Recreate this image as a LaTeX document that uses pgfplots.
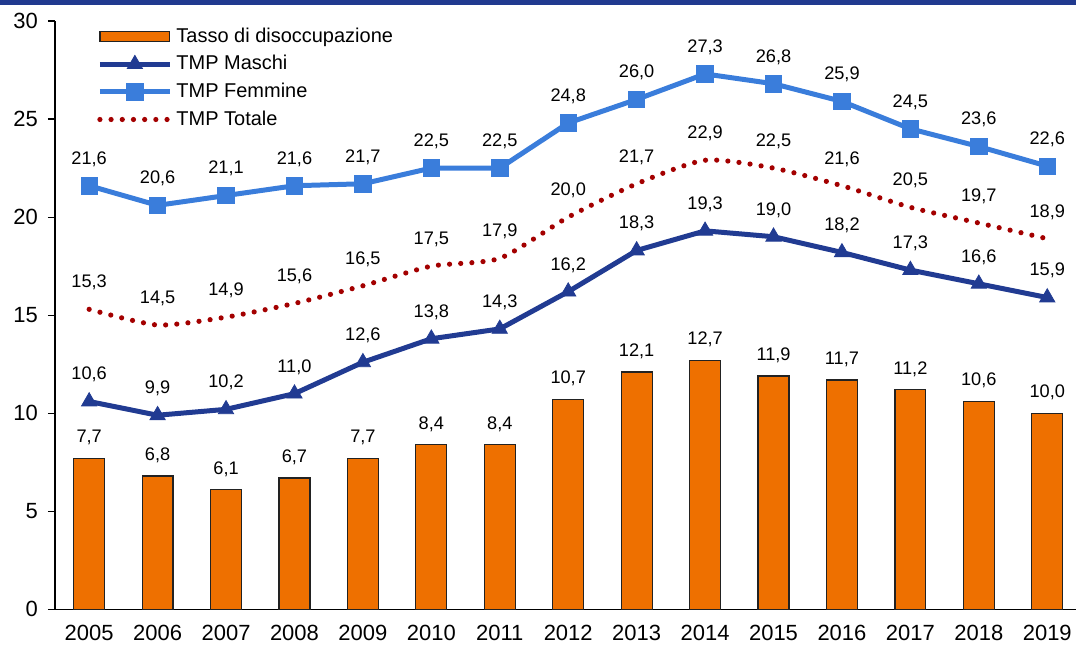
\documentclass[border=0pt]{standalone}
\usepackage{fontspec}
\setmainfont{Liberation Sans}
\usepackage{pgfplots}
\usepackage{pgfplotstable}
\pgfplotsset{compat=1.18}
\definecolor{bandBlue}{HTML}{213A8F}
\definecolor{maschiBlue}{HTML}{213B92}
\definecolor{femmineBlue}{HTML}{3A7DDB}
\definecolor{totaleRed}{HTML}{A30000}
\definecolor{barOrange}{HTML}{EE7000}
\definecolor{barEdge}{HTML}{222222}

\pgfplotsset{
  barlegend/.style={legend image code/.code={\draw[##1] (0pt,-2.6pt) rectangle (35pt,2.6pt);}},
  linelegend/.style={legend image code/.code={\draw[mark repeat=2, mark phase=2, ##1]
      plot coordinates {(0pt,0pt) (17.5pt,0pt) (35pt,0pt)};}},
}

% x = 0 ... 14 stands for 2005 ... 2019
\pgfplotstableread{
x tasso maschi femmine totale
0  7.7 10.6 21.6 15.3
1  6.8  9.9 20.6 14.5
2  6.1 10.2 21.1 14.9
3  6.7 11.0 21.6 15.6
4  7.7 12.6 21.7 16.5
5  8.4 13.8 22.5 17.5
6  8.4 14.3 22.5 17.9
7 10.7 16.2 24.8 20.0
8 12.1 18.3 26.0 21.7
9 12.7 19.3 27.3 22.9
10 11.9 19.0 26.8 22.5
11 11.7 18.2 25.9 21.6
12 11.2 17.3 24.5 20.5
13 10.6 16.6 23.6 19.7
14 10.0 15.9 22.6 18.9
}\datatable

\begin{document}
\begin{tikzpicture}
\begin{axis}[
  scale only axis,
  width=511pt, height=294.5pt,
  xmin=-0.5, xmax=14.42,
  ymin=0, ymax=30,
  axis x line*=bottom, axis y line*=left,
  axis line style={black, line width=0.6pt},
  xtick={0,...,14},
  xticklabels={2005,2006,2007,2008,2009,2010,2011,2012,2013,2014,2015,2016,2017,2018,2019},
  xtick style={draw=none},
  minor xtick={-0.5,0.5,...,13.5},
  minor tick length=3.5pt,
  ytick={0,5,...,30},
  major tick length=3.5pt,
  tick align=outside,
  tick style={black, line width=0.6pt},
  ticklabel style={font=\fontsize{11}{13}\selectfont},
  xticklabel style={yshift=-1pt},
  yticklabel style={xshift=-1.5pt},
  /pgf/number format/assume math mode=true,
  /pgf/number format/use comma,
  clip=false,
  legend cell align=left,
  legend style={draw=none, fill=none, at={(axis description cs:0,1)}, anchor=north west,
    xshift=18pt, yshift=0.8pt, font=\fontsize{10}{12}\selectfont, row sep=1.1pt,
    /tikz/every even column/.append style={column sep=0pt}},
  linelegend,
  nodes near coords,
  nodes near coords style={font=\fontsize{9.1}{11}\selectfont, anchor=base, inner sep=0pt,
    /pgf/number format/fixed, /pgf/number format/fixed zerofill,
    /pgf/number format/precision=1, /pgf/number format/use comma,
    /pgf/number format/assume math mode=true},
]
\addplot[ybar, bar width=15.5pt, bar shift=0pt, fill=barOrange, draw=barEdge, line width=0.6pt,
  nodes near coords style={yshift=7.8pt}, barlegend]
  table[x=x, y=tasso] {\datatable};
\addlegendentry{Tasso di disoccupazione}
\addplot[maschiBlue, line width=2.5pt, mark=triangle*, mark size=4.4pt,
  mark options={solid, line width=0.4pt},
  nodes near coords style={yshift=10.8pt, text=black}]
  table[x=x, y=maschi] {\datatable};
\addlegendentry{TMP Maschi}
\addplot[femmineBlue, line width=2.5pt, mark=square*, mark size=4.1pt,
  mark options={solid, line width=0.4pt, rounded corners=1pt},
  nodes near coords style={yshift=10.8pt, text=black}]
  table[x=x, y=femmine] {\datatable};
\addlegendentry{TMP Femmine}
\addplot[totaleRed, line width=2.6pt, smooth, tension=0.4, line cap=round,
  dash pattern=on 0pt off 5.6pt,
  nodes near coords style={yshift=10.8pt, text=black}]
  table[x=x, y=totale] {\datatable};
\addlegendentry{TMP Totale}
\end{axis}
\fill[bandBlue] (-27.5pt,302.3pt) rectangle (511pt,305pt);
\pgfresetboundingbox
\useasboundingbox (-27.5pt,-18pt) rectangle (511pt,305pt);
\end{tikzpicture}
\end{document}
